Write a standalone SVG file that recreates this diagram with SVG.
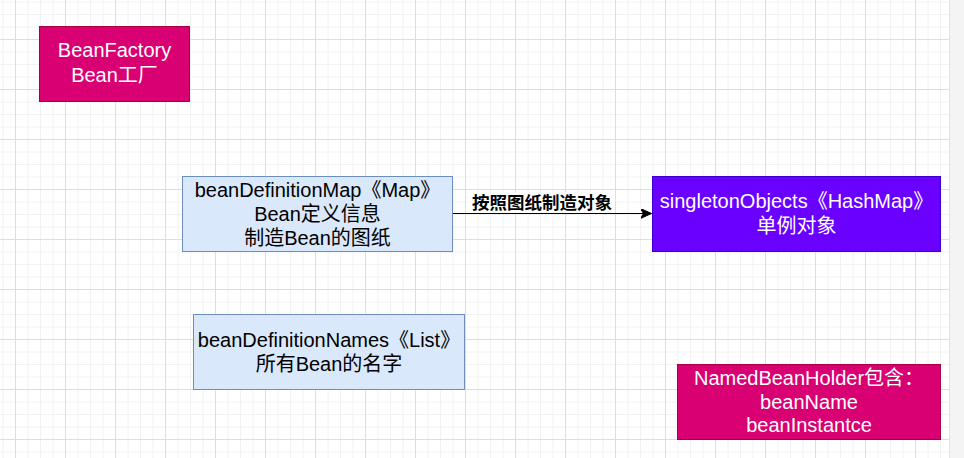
<svg xmlns="http://www.w3.org/2000/svg" width="964" height="458" viewBox="0 0 964 458">
  <defs>
    <pattern id="grid" patternUnits="userSpaceOnUse" x="15" y="39" width="50" height="50">
      <path d="M13 0V50M25.5 0V50M38 0V50M0 13H50M0 25.5H50M0 38H50" stroke="#f2f2f2" stroke-width="1" fill="none"/>
      <path d="M0.5 0V50M0 0.5H50" stroke="#dedede" stroke-width="1" fill="none"/>
    </pattern>
    <marker id="arrow" viewBox="0 0 12 10" refX="11" refY="5" markerWidth="12" markerHeight="10" markerUnits="userSpaceOnUse" orient="auto">
      <path d="M0 0L11 5L0 10L3 5Z" fill="#000" stroke="#000" stroke-width="1"/>
    </marker>
    <style>
      .t { font-family: "Liberation Sans", "Noto Sans CJK SC", sans-serif; font-size: 20px; text-anchor: middle; }
      .w { fill: #ffffff; }
      .k { fill: #000000; }
      .pink { fill: #d80073; stroke: #a50040; stroke-width: 1; }
      .blue { fill: #dae8fc; stroke: #6c8ebf; stroke-width: 1; }
      .purple { fill: #6a00ff; stroke: #3700cc; stroke-width: 1; }
      .lbl { font-family: "Liberation Sans", "Noto Sans CJK SC", sans-serif; font-size: 17.5px; font-weight: bold; text-anchor: middle; fill: #000; }
    </style>
  </defs>
  <rect x="0" y="0" width="964" height="458" fill="#ffffff"/>
  <rect x="0" y="0" width="949" height="458" fill="url(#grid)"/>
  <rect x="949" y="0" width="15" height="458" fill="#f4f4f4"/>
  <line x1="949.5" y1="0" x2="949.5" y2="458" stroke="#e2e2e2" stroke-width="1"/>

  <g id="connectors">
    <line x1="452.5" y1="213.5" x2="651.5" y2="213.5" stroke="#000" stroke-width="1.2" marker-end="url(#arrow)"/>
    <rect x="470.5" y="192.5" width="143" height="20" fill="#ffffff"/>
    <text class="lbl" x="542" y="208.5">按照图纸制造对象</text>
  </g>

  <g id="beanFactory">
    <rect class="pink" x="39.5" y="26.5" width="150" height="75"/>
    <text class="t w" x="114.5" y="57.3">BeanFactory</text>
    <text class="t w" x="114.5" y="82.3">Bean工厂</text>
  </g>

  <g id="beanDefinitionMap">
    <rect class="blue" x="182.5" y="176.5" width="270" height="75"/>
    <text class="t k" x="317.5" y="196.5">beanDefinitionMap《Map》</text>
    <text class="t k" x="317.5" y="220.5">Bean定义信息</text>
    <text class="t k" x="317.5" y="244.5">制造Bean的图纸</text>
  </g>

  <g id="singletonObjects">
    <rect class="purple" x="652.5" y="176.5" width="288" height="75"/>
    <text class="t w" x="796.5" y="208.3">singletonObjects《HashMap》</text>
    <text class="t w" x="796.5" y="233.3">单例对象</text>
  </g>

  <g id="beanDefinitionNames">
    <rect class="blue" x="193.5" y="314.5" width="271" height="75"/>
    <text class="t k" x="329" y="346.7">beanDefinitionNames《List》</text>
    <text class="t k" x="329" y="371">所有Bean的名字</text>
  </g>

  <g id="namedBeanHolder">
    <rect class="pink" x="677.5" y="364.5" width="263" height="75"/>
    <text class="t w" x="809" y="385">NamedBeanHolder包含：</text>
    <text class="t w" x="809" y="408.5">beanName</text>
    <text class="t w" x="809" y="431.5">beanInstantce</text>
  </g>
</svg>
